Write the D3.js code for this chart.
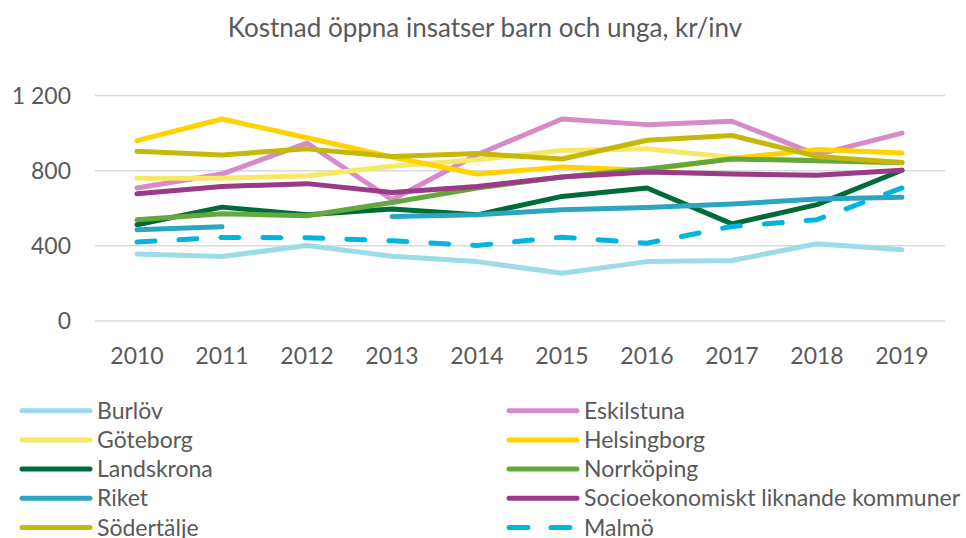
<!DOCTYPE html>
<html><head><meta charset="utf-8">
<script src="https://cdn.jsdelivr.net/npm/d3@7"></script>
<style>body{margin:0;background:#fff;} svg{display:block;} text{font-family:Lato, "Open Sans", sans-serif; fill:#595959;}</style>
</head><body>
<svg id="c" width="966" height="538"></svg>
<script>
const years = [2010,2011,2012,2013,2014,2015,2016,2017,2018,2019];
const yTicks = [0,400,800,1200];
const tickLabels = ["0","400","800","1 200"];
const title = "Kostnad öppna insatser barn och unga, kr/inv";

const burlov      = [357,343,402,345,316,254,316,322,411,379];
const eskilstuna  = [708,782,947,645,885,1075,1045,1063,885,1000];
const goteborg    = [760,760,773,823,858,907,917,870,855,840];
const helsingborg = [960,1075,975,873,782,820,802,865,912,894];
const landskrona  = [512,606,565,596,565,663,708,517,619,802];
const norrkoping  = [539,571,560,631,708,766,809,862,853,844];
const riket       = [485,501,null,556,565,592,604,622,649,658];
const socioek     = [677,716,731,684,716,766,793,782,775,802];
const sodertalje  = [903,884,916,876,891,862,962,987,876,844];
const malmo       = [420,445,443,427,402,446,414,503,539,708];

const seriesNames = ["Burlöv","Eskilstuna","Göteborg","Helsingborg","Landskrona","Norrköping","Riket","Socioekonomiskt liknande kommuner","Södertälje","Malmö"];
const seriesValues = [burlov,eskilstuna,goteborg,helsingborg,landskrona,norrkoping,riket,socioek,sodertalje,malmo];
const seriesColors = ["#9BDCE8","#D68BC6","#F6E967","#FFD200","#006B38","#62A83A","#2BA5C0","#9A3A88","#C5B80A","#00B5E2"];
const seriesDashed = [false,false,false,false,false,false,false,false,false,true];

const svg = d3.select("#c");
const x = d3.scalePoint().domain(years).range([137,902]);
const y = d3.scaleLinear().domain([0,1200]).range([321,95.5]);

svg.append("text").attr("x",485).attr("y",37).attr("text-anchor","middle")
  .style("font-size","26px").text(title);

// gridlines
svg.append("g").selectAll("line").data(yTicks).join("line")
  .attr("x1",95).attr("x2",945).attr("y1",d=>y(d)).attr("y2",d=>y(d))
  .attr("stroke","#d9d9d9").attr("stroke-width",1.5);

// y labels
svg.append("g").selectAll("text").data(yTicks).join("text")
  .attr("x",71).attr("y",d=>y(d)+8.3).attr("text-anchor","end")
  .style("font-size","23px").text((d,i)=>tickLabels[i]);

// x labels
svg.append("g").selectAll("text").data(years).join("text")
  .attr("x",d=>x(d)).attr("y",364).attr("text-anchor","middle")
  .style("font-size","23px").text(d=>d);

const line = d3.line().defined(d=>d[1]!=null).x(d=>x(d[0])).y(d=>y(d[1]));

seriesValues.forEach((vals,i)=>{
  svg.append("path").datum(years.map((yr,j)=>[yr,vals[j]]))
    .attr("d",line).attr("fill","none").attr("stroke",seriesColors[i])
    .attr("stroke-width",5).attr("stroke-linejoin","round").attr("stroke-linecap","round")
    .attr("stroke-dasharray",seriesDashed[i]?"18,24":null);
});

// legend
const leg = svg.append("g");
seriesNames.forEach((n,i)=>{
  const col = i%2, row = Math.floor(i/2);
  const lx = col===0 ? 22 : 509;
  const ly = 410.7 + row*29.2;
  const g = leg.append("g");
  if(seriesDashed[i]){
    g.append("line").attr("x1",lx).attr("x2",lx+68).attr("y1",ly).attr("y2",ly)
      .attr("stroke",seriesColors[i]).attr("stroke-width",5).attr("stroke-linecap","round")
      .attr("stroke-dasharray","19,23");
  } else {
    g.append("line").attr("x1",lx).attr("x2",lx+68).attr("y1",ly).attr("y2",ly)
      .attr("stroke",seriesColors[i]).attr("stroke-width",5).attr("stroke-linecap","round");
  }
  g.append("text").attr("x",lx+75).attr("y",ly+8).style("font-size","23px").text(n);
});
</script>
</body></html>
